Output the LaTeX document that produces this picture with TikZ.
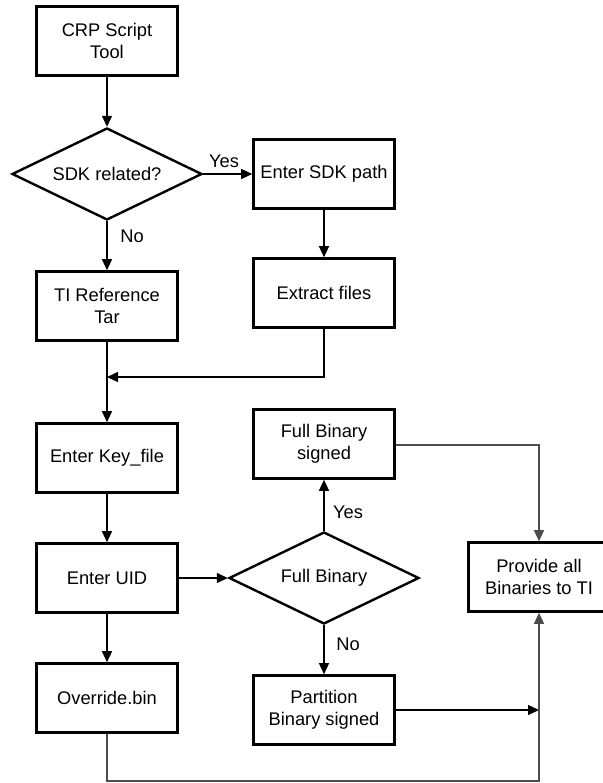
\documentclass[tikz,border=0pt]{standalone}
\usepackage{fontspec}
\setmainfont{Liberation Sans}
\usetikzlibrary{arrows.meta,shapes.geometric}
\begin{document}
\begin{tikzpicture}[x=1pt,y=-1pt,
  txt/.style={font=\fontsize{18.3}{22}\selectfont},
  box/.style={txt,draw,line width=2.6pt,minimum width=141pt,minimum height=69pt,
    inner sep=0pt,align=center},
  choice/.style={txt,draw,diamond,aspect=2,line width=2.4pt,minimum width=190pt,
    minimum height=92pt,inner sep=0pt,align=center},
  link/.style={line width=1.4pt,-{Triangle[length=11pt,width=10pt]}},
  plain/.style={line width=1.4pt},
  soft/.style={draw=black!70},
  tag/.style={txt,inner sep=0pt}]
\useasboundingbox (0,0) rectangle (602,783);

% left column
\node[box] (crp) at (107,41) {CRP Script\\Tool};
\node[choice] (sdk) at (107,174) {SDK related?};
\node[box] (tiref) at (107,306) {TI Reference\\Tar};
\node[box] (key) at (107,458) {Enter Key\_file};
\node[box] (uid) at (107,578) {Enter UID};
\node[box] (ovr) at (107,698) {Override.bin};

% middle column
\node[box] (sdkpath) at (324,174) {Enter SDK path};
\node[box] (extract) at (324,293) {Extract files};
\node[box] (fbs) at (324,444) {Full Binary\\signed};
\node[choice] (full) at (324,578) {Full Binary};
\node[box] (part) at (324,710) {Partition\\Binary signed};

% right column
\node[box] (prov) at (539,577) {Provide all\\Binaries to TI};

% junction points
\coordinate (mergeR) at (324,377);
\coordinate (mergeL) at (107,377);
\coordinate (fbsR) at (539,445);
\coordinate (partR) at (539,710);
\coordinate (ovrB) at (107,781);
\coordinate (provB) at (539,781);

% connectors
\draw[link] (crp) -- (sdk);
\draw[link] (sdk) -- (sdkpath);
\draw[link] (sdk) -- (tiref);
\draw[link] (sdkpath) -- (extract);
\draw[link] (tiref) -- (key);
\draw[link] (extract) -- (mergeR) -- (mergeL);
\draw[link] (key) -- (uid);
\draw[link] (uid) -- (full);
\draw[link] (uid) -- (ovr);
\draw[link] (full) -- (fbs);
\draw[link] (full) -- (part);
\draw[link,soft] (fbs.east |- fbsR) -- (fbsR) -- (prov.north);
\draw[link] (part.east |- partR) -- (partR);
\draw[link,soft] (ovr) -- (ovrB) -- (provB) -- (prov.south);

% branch labels
\node[tag] at (224,161) {Yes};
\node[tag] at (132,236) {No};
\node[tag] at (348,512) {Yes};
\node[tag] at (348,644) {No};
\end{tikzpicture}
\end{document}
